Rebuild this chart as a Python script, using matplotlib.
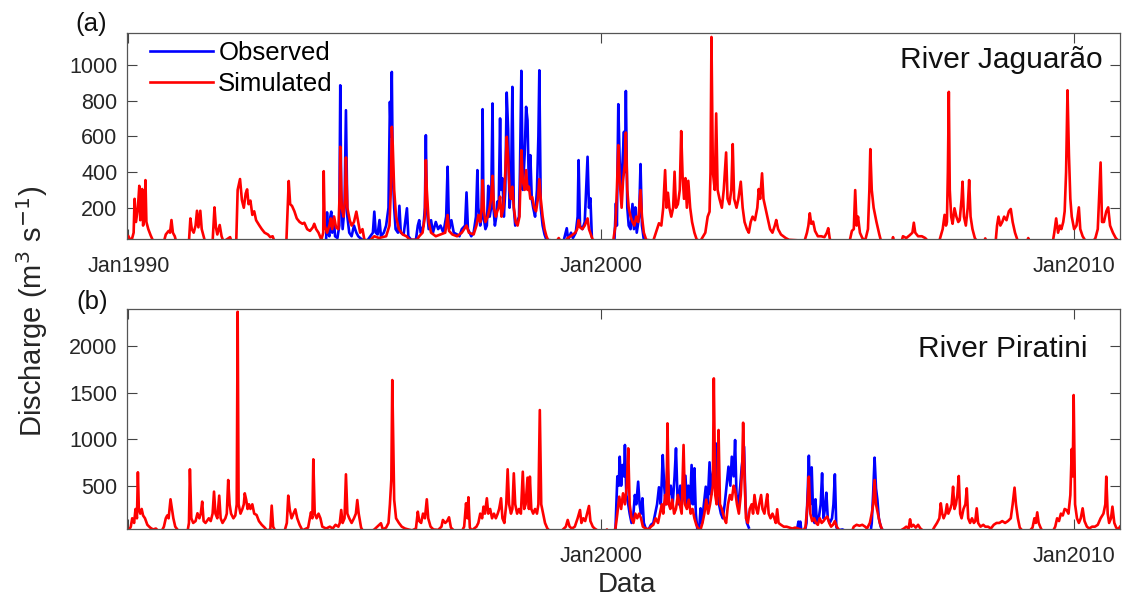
import numpy as np
import matplotlib
matplotlib.use("Agg")
import matplotlib.pyplot as plt
from matplotlib.lines import Line2D

plt.rcParams['font.family'] = ['Liberation Sans', 'DejaVu Sans']

# ---------------- data (decimal year, discharge m3/s) ----------------
# River Jaguarao - simulated
jag_sim = [
    (1990.00, 40), (1990.06, 10), (1990.11, 60), (1990.13, 250), (1990.16, 120), (1990.20, 200),
    (1990.23, 323), (1990.25, 130), (1990.27, 180), (1990.29, 305), (1990.31, 100), (1990.34, 150),
    (1990.36, 355), (1990.38, 120), (1990.42, 80), (1990.47, 45), (1990.52, 15), (1990.75, 10),
    (1990.79, 50), (1990.85, 70), (1990.88, 60), (1990.91, 131), (1990.94, 60), (1990.98, 40),
    (1991.01, 10), (1991.28, 10), (1991.31, 140), (1991.34, 80), (1991.38, 60), (1991.42, 100),
    (1991.45, 183), (1991.48, 90), (1991.52, 183), (1991.55, 80), (1991.59, 40), (1991.62, 10),
    (1991.78, 10), (1991.82, 202), (1991.85, 90), (1991.88, 50), (1991.93, 103), (1991.97, 40),
    (1992.01, 10), (1992.15, 35), (1992.18, 10), (1992.28, 10), (1992.31, 300), (1992.36, 361),
    (1992.40, 243), (1992.44, 200), (1992.48, 280), (1992.51, 303), (1992.54, 220), (1992.58, 240),
    (1992.62, 160), (1992.66, 180), (1992.70, 130), (1992.77, 100), (1992.82, 80), (1992.88, 60),
    (1992.95, 50), (1993.00, 35), (1993.05, 40), (1993.09, 10), (1993.34, 10), (1993.39, 350),
    (1993.42, 220), (1993.46, 210), (1993.51, 180), (1993.56, 140), (1993.62, 120), (1993.68, 110),
    (1993.72, 116), (1993.78, 80), (1993.84, 70), (1993.90, 90), (1993.93, 110), (1993.97, 80),
    (1994.02, 60), (1994.08, 20), (1994.12, 60), (1994.13, 405), (1994.15, 100), (1994.20, 60),
    (1994.25, 100), (1994.28, 140), (1994.31, 80), (1994.35, 150), (1994.39, 90), (1994.44, 80),
    (1994.47, 300), (1994.48, 542), (1994.51, 200), (1994.55, 150), (1994.58, 250), (1994.60, 482),
    (1994.63, 200), (1994.68, 130), (1994.72, 100), (1994.77, 120), (1994.82, 178), (1994.86, 120),
    (1994.90, 60), (1994.95, 80), (1994.99, 20), (1995.10, 15), (1995.20, 40), (1995.30, 30),
    (1995.45, 40), (1995.52, 100), (1995.55, 300), (1995.57, 654), (1995.59, 551), (1995.62, 300),
    (1995.66, 150), (1995.72, 80), (1995.80, 50), (1995.88, 40), (1995.95, 20), (1996.10, 20),
    (1996.15, 40), (1996.22, 60), (1996.27, 150), (1996.29, 467), (1996.31, 300), (1996.35, 120),
    (1996.40, 60), (1996.50, 40), (1996.60, 50), (1996.70, 60), (1996.75, 159), (1996.78, 70),
    (1996.85, 50), (1996.95, 40), (1997.05, 60), (1997.10, 80), (1997.15, 100), (1997.20, 60),
    (1997.30, 50), (1997.36, 100), (1997.40, 159), (1997.44, 120), (1997.47, 200), (1997.49, 355),
    (1997.52, 180), (1997.55, 120), (1997.60, 150), (1997.64, 200), (1997.67, 250), (1997.70, 379),
    (1997.73, 200), (1997.77, 150), (1997.80, 180), (1997.83, 200), (1997.86, 262), (1997.89, 150),
    (1997.93, 200), (1997.97, 400), (1998.00, 598), (1998.03, 480), (1998.06, 300), (1998.09, 250),
    (1998.12, 318), (1998.15, 200), (1998.19, 120), (1998.23, 100), (1998.27, 150), (1998.31, 523),
    (1998.34, 350), (1998.38, 300), (1998.41, 411), (1998.44, 300), (1998.47, 318), (1998.50, 250),
    (1998.54, 260), (1998.58, 200), (1998.62, 180), (1998.66, 250), (1998.69, 361), (1998.72, 250),
    (1998.76, 150), (1998.80, 80), (1998.84, 40), (1998.88, 15), (1999.05, 10), (1999.10, 30),
    (1999.14, 10), (1999.25, 15), (1999.29, 30), (1999.35, 40), (1999.45, 60), (1999.49, 80),
    (1999.52, 131), (1999.55, 90), (1999.60, 80), (1999.65, 100), (1999.71, 140), (1999.74, 80),
    (1999.78, 50), (1999.82, 20), (1999.95, 10), (2000.25, 10), (2000.30, 100), (2000.33, 300),
    (2000.36, 551), (2000.39, 350), (2000.43, 200), (2000.46, 350), (2000.50, 450), (2000.52, 622),
    (2000.55, 300), (2000.58, 200), (2000.62, 150), (2000.66, 120), (2000.70, 100), (2000.74, 150),
    (2000.78, 120), (2000.83, 299), (2000.86, 150), (2000.90, 60), (2000.95, 20), (2001.10, 15),
    (2001.18, 80), (2001.22, 113), (2001.27, 100), (2001.31, 200), (2001.35, 411), (2001.38, 200),
    (2001.41, 284), (2001.44, 200), (2001.48, 150), (2001.52, 200), (2001.55, 402), (2001.58, 200),
    (2001.62, 220), (2001.66, 300), (2001.69, 630), (2001.72, 374), (2001.75, 250), (2001.78, 366),
    (2001.81, 200), (2001.84, 351), (2001.88, 200), (2001.92, 120), (2001.97, 60), (2002.02, 20),
    (2002.10, 15), (2002.20, 60), (2002.25, 150), (2002.29, 178), (2002.31, 400), (2002.33, 1158),
    (2002.36, 400), (2002.40, 300), (2002.43, 729), (2002.46, 300), (2002.50, 250), (2002.55, 200),
    (2002.59, 300), (2002.64, 510), (2002.67, 250), (2002.71, 220), (2002.75, 300), (2002.78, 557),
    (2002.81, 250), (2002.86, 200), (2002.90, 250), (2002.95, 346), (2002.99, 200), (2003.03, 120),
    (2003.08, 80), (2003.12, 60), (2003.16, 120), (2003.20, 150), (2003.25, 130), (2003.30, 200),
    (2003.33, 305), (2003.36, 250), (2003.40, 393), (2003.43, 250), (2003.47, 200), (2003.52, 140),
    (2003.57, 80), (2003.62, 60), (2003.67, 100), (2003.70, 131), (2003.74, 80), (2003.80, 50),
    (2003.85, 40), (2003.90, 30), (2003.97, 20), (2004.30, 15), (2004.35, 60), (2004.38, 100),
    (2004.41, 169), (2004.44, 110), (2004.48, 122), (2004.52, 70), (2004.58, 40), (2004.65, 40),
    (2004.72, 35), (2004.77, 60), (2004.80, 85), (2004.83, 30), (2004.85, 10), (2005.25, 10),
    (2005.30, 70), (2005.34, 80), (2005.37, 299), (2005.40, 100), (2005.43, 150), (2005.47, 60),
    (2005.52, 30), (2005.58, 15), (2005.64, 80), (2005.67, 300), (2005.69, 529), (2005.72, 300),
    (2005.76, 200), (2005.82, 120), (2005.88, 50), (2005.92, 10), (2006.15, 10), (2006.17, 35),
    (2006.19, 10), (2006.35, 10), (2006.38, 40), (2006.45, 30), (2006.52, 45), (2006.58, 60),
    (2006.61, 116), (2006.64, 60), (2006.70, 40), (2006.78, 40), (2006.85, 30), (2006.92, 10),
    (2007.15, 15), (2007.22, 80), (2007.26, 160), (2007.29, 100), (2007.31, 120), (2007.33, 400),
    (2007.35, 850), (2007.37, 300), (2007.40, 150), (2007.43, 110), (2007.47, 197), (2007.51, 150),
    (2007.55, 120), (2007.58, 130), (2007.62, 250), (2007.64, 346), (2007.67, 150), (2007.71, 100),
    (2007.75, 200), (2007.78, 355), (2007.81, 150), (2007.85, 80), (2007.90, 30), (2007.95, 10),
    (2008.10, 10), (2008.12, 28), (2008.14, 10), (2008.34, 10), (2008.37, 100), (2008.40, 150),
    (2008.44, 100), (2008.48, 120), (2008.52, 150), (2008.57, 130), (2008.62, 180), (2008.66, 193),
    (2008.70, 120), (2008.75, 60), (2008.80, 20), (2008.85, 10), (2009.00, 10), (2009.03, 30),
    (2009.05, 10), (2009.55, 10), (2009.58, 60), (2009.62, 140), (2009.66, 60), (2009.70, 100),
    (2009.73, 80), (2009.77, 120), (2009.80, 180), (2009.83, 400), (2009.86, 859), (2009.89, 500),
    (2009.92, 250), (2009.95, 150), (2010.00, 80), (2010.05, 100), (2010.10, 202), (2010.13, 80),
    (2010.18, 40), (2010.25, 10), (2010.40, 10), (2010.45, 30), (2010.50, 80), (2010.56, 454),
    (2010.59, 120), (2010.63, 120), (2010.68, 180), (2010.72, 202), (2010.76, 100), (2010.82, 60),
    (2010.88, 30), (2010.95, 10),
]

# River Jaguarao - observed (two record periods)
jag_obs_1 = [
    (1994.18, 15), (1994.20, 174), (1994.22, 60), (1994.25, 40), (1994.27, 150), (1994.29, 178),
    (1994.31, 60), (1994.34, 150), (1994.37, 40), (1994.42, 30), (1994.46, 100), (1994.48, 887),
    (1994.50, 300), (1994.53, 80), (1994.57, 200), (1994.60, 747), (1994.63, 150), (1994.67, 60),
    (1994.72, 40), (1994.77, 100), (1994.82, 60), (1994.86, 40), (1994.90, 30), (1994.95, 20),
    (1995.05, 15), (1995.17, 60), (1995.20, 178), (1995.23, 60), (1995.27, 50), (1995.31, 131),
    (1995.34, 40), (1995.40, 60), (1995.45, 100), (1995.50, 200), (1995.53, 794), (1995.55, 600),
    (1995.57, 962), (1995.59, 400), (1995.62, 200), (1995.65, 80), (1995.70, 60), (1995.73, 211),
    (1995.76, 60), (1995.82, 50), (1995.89, 197), (1995.92, 40), (1995.98, 20), (1996.08, 20),
    (1996.12, 100), (1996.15, 130), (1996.18, 60), (1996.24, 100), (1996.27, 200), (1996.29, 607),
    (1996.31, 200), (1996.35, 80), (1996.40, 130), (1996.44, 60), (1996.50, 120), (1996.55, 80),
    (1996.60, 100), (1996.66, 60), (1996.72, 150), (1996.75, 430), (1996.78, 80), (1996.83, 130),
    (1996.88, 60), (1996.95, 50), (1997.00, 40), (1997.05, 80), (1997.12, 100), (1997.15, 286),
    (1997.18, 80), (1997.25, 40), (1997.30, 60), (1997.35, 150), (1997.38, 411), (1997.40, 200),
    (1997.44, 100), (1997.47, 150), (1997.49, 753), (1997.51, 150), (1997.55, 80), (1997.58, 100),
    (1997.61, 323), (1997.64, 150), (1997.67, 200), (1997.70, 785), (1997.72, 200), (1997.75, 100),
    (1997.78, 150), (1997.80, 234), (1997.83, 200), (1997.86, 701), (1997.88, 300), (1997.91, 365),
    (1997.94, 150), (1997.97, 300), (1998.00, 846), (1998.03, 635), (1998.06, 200), (1998.09, 300),
    (1998.12, 878), (1998.15, 200), (1998.18, 100), (1998.22, 120), (1998.26, 150), (1998.28, 400),
    (1998.31, 968), (1998.34, 300), (1998.38, 500), (1998.41, 766), (1998.44, 691), (1998.47, 300),
    (1998.50, 495), (1998.53, 250), (1998.56, 200), (1998.60, 150), (1998.64, 300), (1998.67, 600),
    (1998.69, 971), (1998.72, 200), (1998.76, 100), (1998.80, 50), (1998.84, 20), (1999.20, 10),
    (1999.27, 85), (1999.30, 20), (1999.36, 60), (1999.40, 30), (1999.46, 60), (1999.50, 150),
    (1999.52, 467), (1999.55, 100), (1999.60, 80), (1999.65, 120), (1999.68, 300), (1999.71, 486),
    (1999.74, 200), (1999.77, 253), (1999.80, 40),
]
jag_obs_2 = [
    (2000.28, 30), (2000.31, 225), (2000.33, 100), (2000.36, 781), (2000.39, 450), (2000.42, 300),
    (2000.45, 458), (2000.48, 626), (2000.50, 400), (2000.52, 855), (2000.55, 200), (2000.58, 100),
    (2000.62, 80), (2000.66, 221), (2000.69, 80), (2000.72, 202), (2000.75, 60), (2000.80, 150),
    (2000.83, 445), (2000.86, 100), (2000.90, 20),
]

# River Piratini - simulated
pir_sim = [
    (1990.00, 10), (1990.05, 60), (1990.08, 150), (1990.12, 100), (1990.15, 250), (1990.18, 150),
    (1990.20, 644), (1990.22, 250), (1990.25, 200), (1990.28, 250), (1990.31, 180), (1990.35, 150),
    (1990.40, 80), (1990.46, 50), (1990.52, 30), (1990.58, 40), (1990.62, 20), (1990.70, 10),
    (1990.75, 60), (1990.79, 150), (1990.82, 180), (1990.85, 150), (1990.89, 354), (1990.92, 250),
    (1990.95, 150), (1990.99, 60), (1991.05, 20), (1991.25, 10), (1991.28, 100), (1991.30, 676),
    (1991.33, 150), (1991.37, 100), (1991.42, 120), (1991.46, 204), (1991.50, 150), (1991.53, 200),
    (1991.56, 329), (1991.59, 120), (1991.63, 100), (1991.70, 150), (1991.74, 120), (1991.78, 200),
    (1991.81, 436), (1991.84, 200), (1991.88, 150), (1991.92, 393), (1991.95, 150), (1991.99, 100),
    (1992.05, 150), (1992.08, 200), (1992.11, 561), (1992.14, 300), (1992.17, 200), (1992.22, 150),
    (1992.26, 180), (1992.29, 300), (1992.31, 2367), (1992.33, 300), (1992.37, 200), (1992.41, 250),
    (1992.44, 300), (1992.46, 418), (1992.49, 350), (1992.52, 250), (1992.55, 300), (1992.58, 250),
    (1992.62, 300), (1992.66, 200), (1992.71, 186), (1992.76, 120), (1992.82, 80), (1992.88, 50),
    (1992.93, 20), (1993.00, 30), (1993.03, 286), (1993.06, 60), (1993.10, 20), (1993.30, 10),
    (1993.35, 100), (1993.38, 393), (1993.41, 250), (1993.45, 150), (1993.49, 200), (1993.53, 246),
    (1993.57, 150), (1993.62, 80), (1993.68, 20), (1993.80, 50), (1993.86, 214), (1993.89, 150),
    (1993.91, 783), (1993.94, 200), (1993.98, 150), (1994.02, 200), (1994.06, 150), (1994.10, 60),
    (1994.18, 40), (1994.26, 60), (1994.32, 40), (1994.38, 80), (1994.44, 60), (1994.47, 100),
    (1994.50, 239), (1994.53, 100), (1994.57, 150), (1994.60, 622), (1994.63, 200), (1994.67, 150),
    (1994.72, 100), (1994.77, 150), (1994.81, 200), (1994.84, 346), (1994.87, 200), (1994.92, 50),
    (1994.96, 15), (1995.15, 15), (1995.20, 30), (1995.34, 97), (1995.38, 30), (1995.45, 50),
    (1995.50, 100), (1995.53, 300), (1995.56, 569), (1995.58, 1634), (1995.60, 990), (1995.62, 350),
    (1995.66, 150), (1995.72, 100), (1995.78, 60), (1995.85, 40), (1995.92, 30), (1996.00, 20),
    (1996.08, 40), (1996.12, 221), (1996.15, 120), (1996.19, 100), (1996.23, 200), (1996.27, 150),
    (1996.31, 354), (1996.34, 150), (1996.39, 60), (1996.45, 30), (1996.55, 25), (1996.62, 60),
    (1996.65, 132), (1996.70, 100), (1996.74, 120), (1996.78, 161), (1996.82, 50), (1996.88, 20),
    (1997.05, 10), (1997.10, 60), (1997.14, 311), (1997.17, 150), (1997.19, 376), (1997.22, 50),
    (1997.26, 20), (1997.36, 60), (1997.40, 100), (1997.44, 200), (1997.48, 150), (1997.51, 275),
    (1997.54, 200), (1997.58, 365), (1997.61, 200), (1997.65, 250), (1997.69, 150), (1997.73, 200),
    (1997.77, 150), (1997.81, 200), (1997.84, 250), (1997.88, 365), (1997.91, 150), (1997.95, 100),
    (1997.99, 300), (1998.02, 676), (1998.05, 300), (1998.09, 200), (1998.12, 250), (1998.15, 633),
    (1998.18, 300), (1998.22, 200), (1998.26, 250), (1998.30, 200), (1998.34, 650), (1998.37, 250),
    (1998.40, 300), (1998.44, 586), (1998.47, 250), (1998.49, 597), (1998.52, 250), (1998.56, 200),
    (1998.60, 250), (1998.64, 200), (1998.67, 300), (1998.70, 1312), (1998.73, 300), (1998.77, 200),
    (1998.81, 100), (1998.86, 40), (1998.92, 10), (1999.15, 10), (1999.25, 60), (1999.29, 132),
    (1999.33, 60), (1999.38, 40), (1999.44, 60), (1999.50, 150), (1999.55, 239), (1999.58, 100),
    (1999.62, 150), (1999.66, 120), (1999.70, 200), (1999.74, 282), (1999.77, 120), (1999.82, 60),
    (1999.86, 40), (1999.92, 20), (2000.10, 10), (2000.12, 30), (2000.15, 10), (2000.26, 10),
    (2000.30, 40), (2000.34, 200), (2000.38, 382), (2000.42, 250), (2000.46, 418), (2000.50, 300),
    (2000.54, 500), (2000.57, 901), (2000.60, 300), (2000.64, 150), (2000.68, 100), (2000.72, 200),
    (2000.76, 150), (2000.80, 200), (2000.84, 150), (2000.88, 60), (2000.94, 40), (2001.00, 30),
    (2001.05, 60), (2001.10, 80), (2001.15, 150), (2001.20, 100), (2001.24, 200), (2001.28, 300),
    (2001.31, 200), (2001.35, 400), (2001.38, 300), (2001.40, 1169), (2001.43, 300), (2001.46, 250),
    (2001.50, 350), (2001.54, 200), (2001.58, 250), (2001.62, 400), (2001.66, 300), (2001.70, 200),
    (2001.74, 937), (2001.77, 300), (2001.81, 250), (2001.85, 350), (2001.89, 200), (2001.93, 250),
    (2001.97, 150), (2002.01, 80), (2002.05, 40), (2002.10, 30), (2002.14, 100), (2002.18, 200),
    (2002.22, 350), (2002.26, 200), (2002.30, 300), (2002.33, 400), (2002.36, 500), (2002.38, 1652),
    (2002.41, 400), (2002.44, 300), (2002.46, 500), (2002.48, 1098), (2002.51, 300), (2002.55, 250),
    (2002.60, 150), (2002.64, 100), (2002.68, 300), (2002.72, 400), (2002.76, 350), (2002.80, 500),
    (2002.83, 450), (2002.87, 300), (2002.91, 200), (2002.95, 400), (2002.98, 700), (2003.00, 1176),
    (2003.03, 597), (2003.06, 150), (2003.10, 100), (2003.14, 250), (2003.18, 300), (2003.21, 200),
    (2003.24, 400), (2003.28, 250), (2003.31, 200), (2003.34, 300), (2003.38, 400), (2003.41, 250),
    (2003.45, 200), (2003.48, 300), (2003.51, 408), (2003.54, 200), (2003.58, 150), (2003.62, 200),
    (2003.66, 150), (2003.69, 100), (2003.72, 247), (2003.75, 100), (2003.80, 80), (2003.86, 60),
    (2003.92, 60), (2003.98, 50), (2004.04, 40), (2004.10, 50), (2004.16, 40), (2004.22, 30),
    (2004.28, 20), (2004.32, 60), (2004.36, 300), (2004.39, 597), (2004.42, 200), (2004.46, 120),
    (2004.50, 150), (2004.54, 100), (2004.58, 80), (2004.62, 150), (2004.66, 100), (2004.70, 120),
    (2004.74, 150), (2004.78, 168), (2004.82, 100), (2004.86, 60), (2004.90, 80), (2004.94, 120),
    (2004.98, 60), (2005.02, 30), (2005.08, 10), (2005.30, 10), (2005.34, 60), (2005.40, 80),
    (2005.46, 70), (2005.52, 80), (2005.58, 60), (2005.62, 40), (2005.68, 100), (2005.72, 200),
    (2005.75, 300), (2005.78, 561), (2005.81, 300), (2005.85, 200), (2005.89, 100), (2005.93, 40),
    (2005.97, 10), (2006.30, 10), (2006.40, 40), (2006.45, 60), (2006.50, 40), (2006.53, 139),
    (2006.56, 60), (2006.60, 80), (2006.65, 50), (2006.70, 80), (2006.75, 40), (2006.80, 20),
    (2007.00, 15), (2007.05, 60), (2007.10, 100), (2007.15, 150), (2007.18, 311), (2007.21, 200),
    (2007.24, 150), (2007.28, 200), (2007.31, 300), (2007.34, 200), (2007.38, 250), (2007.41, 300),
    (2007.44, 489), (2007.47, 250), (2007.50, 300), (2007.53, 400), (2007.56, 604), (2007.59, 200),
    (2007.62, 150), (2007.66, 250), (2007.70, 300), (2007.73, 472), (2007.76, 150), (2007.80, 100),
    (2007.84, 150), (2007.88, 100), (2007.91, 120), (2007.94, 257), (2007.97, 100), (2008.02, 60),
    (2008.08, 80), (2008.12, 60), (2008.18, 60), (2008.24, 40), (2008.30, 80), (2008.36, 100),
    (2008.42, 100), (2008.48, 120), (2008.54, 100), (2008.60, 120), (2008.66, 150), (2008.70, 300),
    (2008.74, 479), (2008.77, 300), (2008.81, 150), (2008.85, 50), (2008.90, 20), (2009.05, 10),
    (2009.12, 50), (2009.16, 150), (2009.19, 100), (2009.22, 214), (2009.25, 100), (2009.29, 50),
    (2009.33, 10), (2009.55, 10), (2009.60, 60), (2009.64, 150), (2009.68, 120), (2009.72, 200),
    (2009.76, 180), (2009.80, 250), (2009.84, 239), (2009.88, 200), (2009.92, 400), (2009.95, 894),
    (2009.97, 600), (2009.99, 1473), (2010.02, 300), (2010.06, 150), (2010.10, 100), (2010.14, 150),
    (2010.18, 257), (2010.22, 120), (2010.27, 60), (2010.32, 40), (2010.38, 60), (2010.44, 60),
    (2010.50, 80), (2010.56, 150), (2010.62, 200), (2010.66, 300), (2010.68, 597), (2010.71, 200),
    (2010.74, 100), (2010.78, 150), (2010.81, 275), (2010.85, 100), (2010.89, 50), (2010.93, 30),
    (2010.97, 60),
]

# River Piratini - observed (record periods)
pir_obs_1 = [
    (2000.30, 30), (2000.34, 600), (2000.37, 500), (2000.39, 811), (2000.42, 500), (2000.45, 722),
    (2000.48, 600), (2000.50, 937), (2000.53, 400), (2000.57, 300), (2000.60, 200), (2000.64, 100),
    (2000.68, 200), (2000.71, 400), (2000.74, 300), (2000.78, 543), (2000.81, 300), (2000.84, 200),
    (2000.87, 365), (2000.90, 100), (2000.94, 40), (2001.00, 30), (2001.05, 80), (2001.10, 100),
    (2001.14, 200), (2001.18, 300), (2001.22, 483), (2001.26, 300), (2001.30, 829), (2001.33, 500),
    (2001.36, 300), (2001.40, 733), (2001.43, 400), (2001.47, 500), (2001.51, 300), (2001.55, 600),
    (2001.58, 901), (2001.61, 400), (2001.64, 300), (2001.67, 500), (2001.70, 300), (2001.74, 400),
    (2001.78, 607), (2001.81, 300), (2001.84, 500), (2001.88, 300), (2001.91, 722), (2001.94, 300),
    (2001.97, 687), (2002.00, 200), (2002.03, 40), (2002.07, 30), (2002.10, 257), (2002.13, 100),
    (2002.17, 300), (2002.21, 489), (2002.25, 300), (2002.29, 751), (2002.32, 400), (2002.35, 600),
    (2002.38, 700), (2002.42, 955), (2002.45, 400), (2002.49, 300), (2002.53, 200), (2002.57, 150),
    (2002.61, 300), (2002.65, 500), (2002.69, 704), (2002.73, 500), (2002.76, 811), (2002.80, 600),
    (2002.83, 990), (2002.86, 400), (2002.90, 300), (2002.94, 500), (2002.97, 700), (2003.02, 918),
    (2003.05, 300), (2003.08, 100), (2003.12, 50),
]
pir_obs_2 = [
    (2004.14, 30), (2004.17, 114), (2004.19, 60), (2004.21, 114), (2004.23, 20), (2004.31, 20),
    (2004.34, 100), (2004.37, 500), (2004.39, 822), (2004.42, 300), (2004.45, 697), (2004.48, 200),
    (2004.51, 100), (2004.53, 354), (2004.56, 100), (2004.60, 150), (2004.64, 300), (2004.67, 633),
    (2004.70, 150), (2004.73, 250), (2004.76, 425), (2004.79, 150), (2004.83, 100), (2004.88, 150),
    (2004.91, 300), (2004.94, 622), (2004.97, 60), (2005.00, 20), (2005.10, 30), (2005.14, 20),
]
pir_obs_3 = [
    (2005.70, 20), (2005.72, 100), (2005.75, 418), (2005.78, 801), (2005.81, 472), (2005.84, 346),
    (2005.87, 150), (2005.91, 60), (2005.95, 20),
]

year_ticks = [1990, 2000, 2010]
tick_labels_a = ['Jan1990', 'Jan2000', 'Jan2010']
tick_labels_b = ['', 'Jan2000', 'Jan2010']
yticks_a = [200, 400, 600, 800, 1000]
yticks_b = [500, 1000, 1500, 2000]

BLUE = '#0000ff'
RED = '#ff0000'
LW = 1.9
TXT = '#262626'


def xy(pts):
    a = np.array(pts, dtype=float)
    return a[:, 0], a[:, 1]


fig = plt.figure(figsize=(11.28, 6.01), dpi=100)
ax1 = fig.add_axes([0.1126, 0.6023, 0.8803, 0.3436])
ax2 = fig.add_axes([0.1126, 0.1198, 0.8803, 0.3661])

# panel a
for seg in (jag_obs_1, jag_obs_2):
    t, v = xy(seg)
    ax1.plot(t, v, color=BLUE, lw=LW)
t, v = xy(jag_sim)
ax1.plot(t, v, color=RED, lw=LW)
ax1.set_ylim(24.5, 1183)
ax1.set_yticks(yticks_a)
ax1.set_xticks(year_ticks)
ax1.set_xticklabels(tick_labels_a)

# panel b
for seg in (pir_obs_1, pir_obs_2, pir_obs_3):
    t, v = xy(seg)
    ax2.plot(t, v, color=BLUE, lw=LW)
t, v = xy(pir_sim)
ax2.plot(t, v, color=RED, lw=LW)
ax2.set_ylim(35, 2397)
ax2.set_yticks(yticks_b)
ax2.set_xticks(year_ticks)
ax2.set_xticklabels(tick_labels_b)

for ax in (ax1, ax2):
    ax.set_xlim(1989.97, 2010.97)
    ax.tick_params(direction='in', length=7, width=0.8, top=True, right=True,
                   labelsize=15.5, colors='#444444', labelcolor=TXT)
    ax.tick_params(axis='x', pad=12)
    ax.tick_params(axis='y', pad=7)
    for s in ax.spines.values():
        s.set_color('#555555')
        s.set_linewidth(0.9)

# legend (panel a)
handles = [Line2D([], [], color=BLUE, lw=LW), Line2D([], [], color=RED, lw=LW)]
ax1.legend(handles, ['Observed', 'Simulated'], loc='upper left', frameon=False,
           fontsize=18.5, handlelength=2.45, handletextpad=0.2, labelspacing=0.3,
           borderaxespad=0.0, bbox_to_anchor=(0.013, 1.01))

ax1.text(0.983, 0.865, 'River Jaguarão', transform=ax1.transAxes, ha='right', va='center',
         fontsize=21.5, color='#111111')
ax2.text(0.967, 0.82, 'River Piratini', transform=ax2.transAxes, ha='right', va='center',
         fontsize=21.5, color='#111111')

fig.text(91 / 1128, 1 - 24 / 601, '(a)', fontsize=18.5, ha='center', va='center', color='#111111')
fig.text(92 / 1128, 1 - 302 / 601, '(b)', fontsize=18.5, ha='center', va='center', color='#111111')
fig.text(32 / 1128, 1 - 311 / 601, 'Discharge (m$^3$ s$^{-1}$)', fontsize=21, rotation=90,
         ha='center', va='center', color='#262626')
fig.text(627 / 1128, 1 - 585 / 601, 'Data', fontsize=20, ha='center', va='center', color='#262626')

fig.savefig('out.png', dpi=100, facecolor='white')
